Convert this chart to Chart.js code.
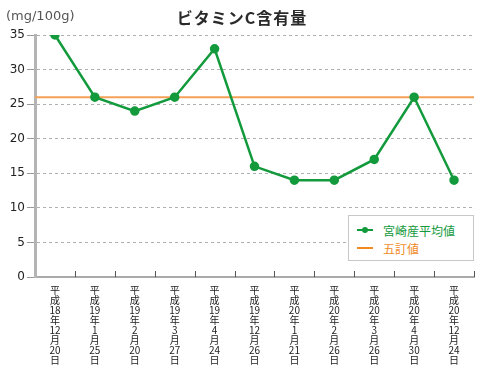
<!DOCTYPE html>
<html><head><meta charset="utf-8">
<script src="https://cdn.jsdelivr.net/npm/chart.js@4/dist/chart.umd.min.js"></script>
<style>
html,body{margin:0;padding:0;background:#fff;}
#wrap{position:relative;width:480px;height:380px;}
#title{position:absolute;left:0;width:484px;top:5px;text-align:center;font:bold 16px "Noto Sans CJK JP",sans-serif;color:#2a2a2a;letter-spacing:1px;}
#unit{position:absolute;left:6px;top:8px;font:13px "DejaVu Sans",sans-serif;color:#555;}
#legend{position:absolute;left:348px;top:215px;width:126px;height:46px;border:1px solid #c8c8c8;background:#fff;box-sizing:border-box;font:12px "Noto Sans CJK JP",sans-serif;}
.item{position:absolute;left:8px;height:14px;display:flex;align-items:center;}
.sw{position:relative;width:16px;height:14px;margin-right:10px;}
.sw .ln{position:absolute;left:0;top:6px;width:16px;height:2px;}
.sw .dt{position:absolute;left:5px;top:4px;width:6px;height:6px;border-radius:50%;}
</style></head>
<body>
<div id="wrap">
<canvas id="c" width="480" height="380"></canvas>
<div id="title"></div>
<div id="unit"></div>
<div id="legend"></div>
</div>
<script>
const titleText = "ビタミンC含有量";
const unitText = "(mg/100g)";
const categories = [
  ["平","成","18","年","12","月","20","日"],
  ["平","成","19","年","1","月","25","日"],
  ["平","成","19","年","2","月","20","日"],
  ["平","成","19","年","3","月","27","日"],
  ["平","成","19","年","4","月","24","日"],
  ["平","成","19","年","12","月","26","日"],
  ["平","成","20","年","1","月","21","日"],
  ["平","成","20","年","2","月","26","日"],
  ["平","成","20","年","3","月","26","日"],
  ["平","成","20","年","4","月","30","日"],
  ["平","成","20","年","12","月","24","日"]
];
const miyazakiValues = [35, 26, 24, 26, 33, 16, 14, 14, 17, 26, 14];
const gotenValue = 26;
const seriesNames = ["宮崎産平均値", "五訂値"];
const yTicks = [0, 5, 10, 15, 20, 25, 30, 35];

const GREEN = "#139a3c";
const ORANGE = "#f5a057";
const ORANGE_TEXT = "#f08a1e";

document.getElementById("title").textContent = titleText;
document.getElementById("unit").textContent = unitText;

const lg = document.getElementById("legend");
lg.innerHTML =
 '<div class="item" style="top:7px;color:'+GREEN+'"><div class="sw"><div class="ln" style="background:'+GREEN+'"></div><div class="dt" style="background:'+GREEN+'"></div></div><span></span></div>' +
 '<div class="item" style="top:25px;color:'+ORANGE_TEXT+'"><div class="sw"><div class="ln" style="background:'+ORANGE_TEXT+'"></div></div><span></span></div>';
lg.querySelectorAll("span")[0].textContent = seriesNames[0];
lg.querySelectorAll("span")[1].textContent = seriesNames[1];

const refLine = {
  id: "refLine",
  beforeDatasetsDraw(chart) {
    const {ctx, chartArea, scales} = chart;
    const y = scales.y.getPixelForValue(gotenValue);
    ctx.save();
    ctx.strokeStyle = ORANGE;
    ctx.lineWidth = 2;
    ctx.beginPath();
    ctx.moveTo(chartArea.left, y);
    ctx.lineTo(chartArea.right, y);
    ctx.stroke();
    ctx.restore();
  },
  afterDraw(chart) {
    const {ctx, chartArea, scales} = chart;
    const xs = scales.x;
    ctx.save();
    ctx.strokeStyle = "#555";
    ctx.lineWidth = 1;
    for (let i = 1; i <= categories.length; i++) {
      const px = Math.round(xs.getPixelForValue(i - 0.5)) + 0.5;
      ctx.beginPath();
      ctx.moveTo(px, chartArea.bottom);
      ctx.lineTo(px, chartArea.bottom - 6);
      ctx.stroke();
    }
    ctx.restore();
  }
};

new Chart(document.getElementById("c"), {
  type: "line",
  data: {
    labels: categories,
    datasets: [{
      label: seriesNames[0],
      data: miyazakiValues,
      borderColor: GREEN,
      backgroundColor: GREEN,
      borderWidth: 2.5,
      pointRadius: 3.5,
      pointHoverRadius: 3.5,
      tension: 0
    }]
  },
  options: {
    responsive: false,
    animation: false,
    events: [],
    layout: {padding: {top: 35, right: 3, left: 0, bottom: 0}},
    plugins: {legend: {display: false}, title: {display: false}, tooltip: {enabled: false}},
    scales: {
      x: {
        offset: true,
        grid: {display: true, offset: true, drawOnChartArea: false, drawTicks: false},
        border: {display: true, color: "#aaa", width: 2},
        ticks: {
          autoSkip: false, maxRotation: 0, minRotation: 0, padding: 8,
          color: "#222",
          font: {family: "'Noto Sans CJK JP', sans-serif", size: 10, lineHeight: 1.0}
        },
        afterFit(s) { s.height = 103; }
      },
      y: {
        min: 0, max: 35,
        afterBuildTicks(s) { s.ticks = yTicks.map(v => ({value: v})); },
        grid: {color: "#b0b0b0", tickBorderDash: [], tickColor: "#999", tickLength: 8, lineWidth: 1},
        border: {display: true, color: "#b4b4b4", width: 3, dash: [3, 3]},
        ticks: {color: "#222", padding: 2, font: {family: "'DejaVu Sans', sans-serif", size: 12}},
        afterFit(s) { s.width = 35; }
      }
    }
  },
  plugins: [refLine]
});
</script>
</body></html>
